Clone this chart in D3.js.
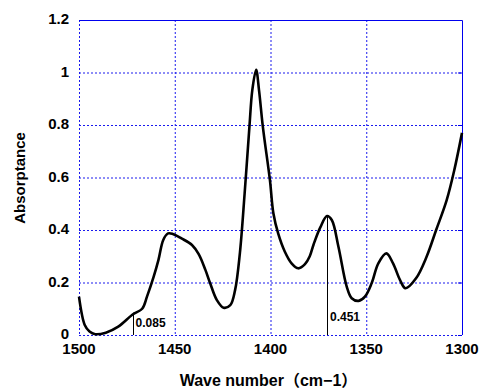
<!DOCTYPE html>
<html>
<head>
<meta charset="utf-8">
<script src="https://cdn.jsdelivr.net/npm/d3@7"></script>
<style>
    body { margin: 0; background: #fff; }
    text { font-family: "Liberation Sans", Arial, "Noto Sans CJK JP", sans-serif; font-weight: bold; }
</style>
</head>
<body>
<div id="chart"></div>
<script>
'use strict'

// spectrum
const waveNumbers = [1500, 1497, 1494.5, 1491.5, 1486, 1479.5, 1472, 1467, 1464.5, 1461, 1458.5, 1456,
    1453.5, 1451, 1446.5, 1441, 1437.5, 1434, 1431.5, 1428, 1424.5, 1421, 1418.5, 1416, 1413.5, 1411,
    1409.5, 1407.5, 1406, 1404, 1400.3, 1398.5, 1396, 1392.5, 1389, 1385.5, 1382, 1379.5, 1377.5, 1374,
    1370.5, 1368, 1364.5, 1360.2, 1357.6, 1354, 1350.7, 1347.2, 1343.7, 1339.5, 1336, 1332.4, 1329.5,
    1324, 1318.5, 1313.5, 1308, 1304, 1300];
const absorptance = [0.146, 0.038, 0.013, 0.003, 0.009, 0.032, 0.078, 0.10, 0.146, 0.222, 0.286, 0.362,
    0.387, 0.385, 0.368, 0.343, 0.308, 0.248, 0.197, 0.133, 0.104, 0.114, 0.171, 0.311, 0.54, 0.794,
    0.933, 1.01, 0.933, 0.794, 0.59, 0.464, 0.387, 0.317, 0.273, 0.254, 0.27, 0.3, 0.345, 0.41,
    0.453, 0.438, 0.335, 0.184, 0.14, 0.13, 0.146, 0.197, 0.273, 0.311, 0.273, 0.21, 0.178,
    0.216, 0.298, 0.4, 0.514, 0.629, 0.77];

const xTicks = [1500, 1450, 1400, 1350, 1300];
const yTicks = [0, 0.2, 0.4, 0.6, 0.8, 1, 1.2];

// marked peaks
const markWave = [1472, 1370.5];
const markValue = [0.085, 0.451];
const markLabel = ['0.085', '0.451'];

let W = 483, H = 392,
    margin = { top: 20, right: 21, bottom: 57, left: 79 },
    width = W - margin.left - margin.right,
    height = H - margin.top - margin.bottom;

let svg = d3.select('#chart').append('svg')
    .attr('width', W)
    .attr('height', H);

let x = d3.scaleLinear().domain([1500, 1300]).range([0, width]),
    y = d3.scaleLinear().domain([0, 1.2]).range([height, 0]);

let g = svg.append('g')
    .attr('transform', 'translate(' + margin.left + ',' + margin.top + ')');

// dotted grid
g.append('g').selectAll('line')
    .data(yTicks.slice(0, -1))
    .enter().append('line')
    .attr('x1', 0).attr('x2', width)
    .attr('y1', d => y(d) + 0.5).attr('y2', d => y(d) + 0.5)
    .attr('stroke', '#1a1aee')
    .attr('stroke-dasharray', '2,2');

g.append('g').selectAll('line')
    .data(xTicks.slice(0, -1))
    .enter().append('line')
    .attr('y1', 0).attr('y2', height)
    .attr('x1', d => x(d) + 0.5).attr('x2', d => x(d) + 0.5)
    .attr('stroke', '#1a1aee')
    .attr('stroke-dasharray', '2,2');

// solid top / right frame
g.append('path')
    .attr('d', 'M0,0.5H' + (width + 0.5) + 'V' + height)
    .attr('fill', 'none')
    .attr('stroke', '#0000ee');

g.append('g')
    .attr('transform', 'translate(' + width + ',0)')
    .call(d3.axisLeft(y).tickValues(yTicks).tickSize(4).tickFormat(''))
    .call(s => s.select('.domain').remove())
    .selectAll('line').attr('stroke', '#0000ee');

// axis labels
g.append('g').selectAll('text')
    .data(yTicks)
    .enter().append('text')
    .attr('x', -10)
    .attr('y', d => y(d))
    .attr('dy', '0.28em')
    .attr('text-anchor', 'end')
    .attr('font-size', 15)
    .text(d => d);

g.append('g').selectAll('text')
    .data(xTicks)
    .enter().append('text')
    .attr('x', d => x(d))
    .attr('y', height + 19)
    .attr('text-anchor', 'middle')
    .attr('font-size', 15)
    .text(d => d);

svg.append('text')
    .attr('x', margin.left + width / 2 - 2)
    .attr('y', 386)
    .attr('text-anchor', 'middle')
    .attr('font-size', 16)
    .text('Wave number（cm−1）');

svg.append('text')
    .attr('transform', 'translate(25,' + 178 + ') rotate(-90)')
    .attr('text-anchor', 'middle')
    .attr('font-size', 15)
    .text('Absorptance');

// spectrum
let data = waveNumbers.map((w, i) => ({ k: w, v: absorptance[i] }));

let line = d3.line()
    .curve(d3.curveCatmullRom)
    .x(d => x(d.k))
    .y(d => y(d.v));

g.append('path')
    .datum(data)
    .attr('d', line)
    .attr('fill', 'none')
    .attr('stroke', '#000')
    .attr('stroke-width', 2.6)
    .attr('stroke-linejoin', 'round');

// peak markers
markWave.forEach(function(w, i) {
    g.append('line')
        .attr('x1', Math.round(x(w)) + 0.5).attr('x2', Math.round(x(w)) + 0.5)
        .attr('y1', y(0)).attr('y2', y(markValue[i]))
        .attr('stroke', '#000');
    g.append('text')
        .attr('x', x(w) + 3)
        .attr('y', i === 0 ? height - 8 : height - 14)
        .attr('font-size', 12)
        .text(markLabel[i]);
});
</script>
</body>
</html>
